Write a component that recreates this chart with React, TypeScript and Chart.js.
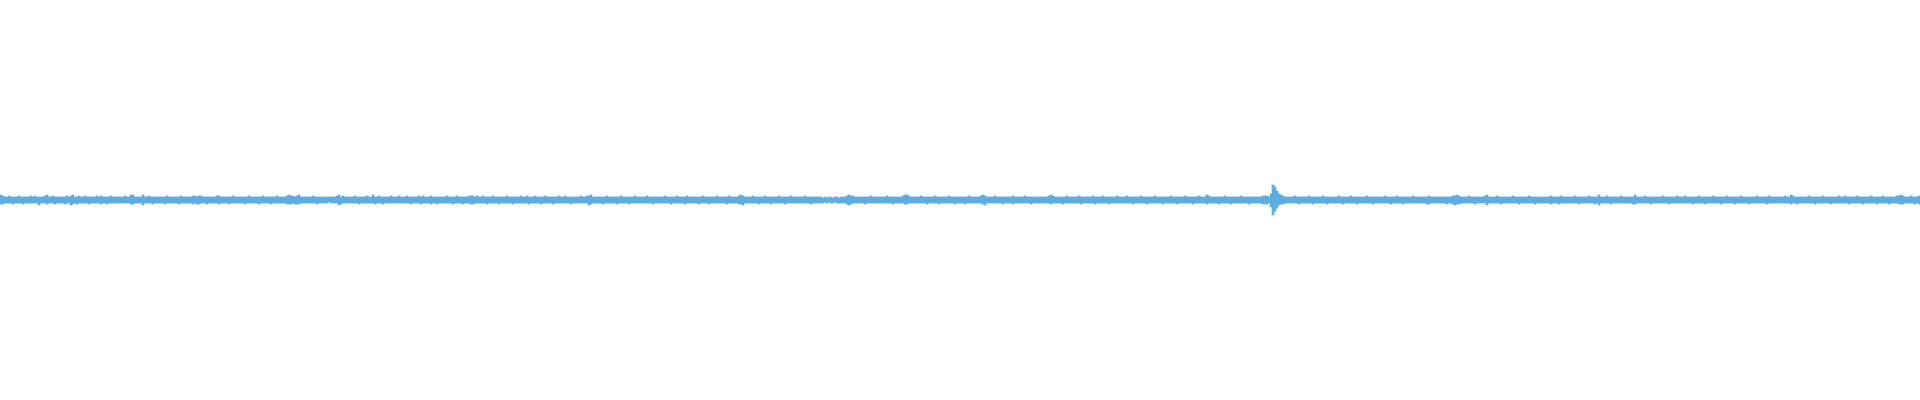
import React, { useEffect, useRef } from "react";
import { Chart, registerables } from "chart.js";

Chart.register(...registerables);

// Upper amplitude of each waveform column (2px per column), in pixel units
const upper: number[] = [
  5,4,3,3,4,3,3,3,3,4, 3,3,3,3,3,4,3,4,3,3, 3,3,4,5,3,3,4,3,3,3, 3,3,3,4,3,4,5,3,3,4,
  3,3,4,3,3,3,3,3,4,3, 4,3,3,3,3,4,3,3,3,3, 3,3,4,3,3,5,5,3,3,3, 3,5,3,3,4,3,3,3,3,3,
  3,3,3,4,3,3,3,3,3,3, 4,3,3,3,3,3,4,4,3,4, 4,3,3,3,3,3,3,3,4,4, 3,3,3,3,3,3,4,3,3,3,
  3,3,3,3,4,3,3,3,3,3, 3,4,3,3,3,3,3,3,4,3, 3,3,3,4,5,4,4,3,4,5, 3,3,3,3,3,3,4,3,3,3,
  3,3,3,3,3,3,3,3,4,5, 3,4,3,3,3,3,3,4,3,3, 3,3,3,4,3,3,5,3,3,4, 3,3,3,3,3,4,3,3,3,4,
  3,3,3,4,3,3,3,3,3,4, 3,4,3,3,3,4,3,3,3,3, 3,3,3,4,3,3,3,3,4,3, 3,3,3,3,4,4,4,3,4,3,
  3,4,3,3,3,3,4,3,3,3, 3,3,3,4,3,3,3,3,3,3, 4,3,3,4,3,3,3,4,3,3, 3,3,4,3,3,3,3,3,3,4,
  3,3,4,3,3,3,3,3,3,3, 4,3,3,4,4,5,3,3,3,3, 3,3,3,4,3,3,3,3,3,3, 4,3,3,3,3,3,3,4,3,3,
  3,3,3,4,3,3,3,3,3,3, 3,3,4,3,3,3,3,3,4,3, 3,3,3,4,3,3,3,3,3,3, 3,4,3,3,3,3,3,3,4,3,
  3,3,3,3,4,3,3,3,3,4, 5,4,3,3,3,3,4,3,3,3, 3,3,4,3,3,3,3,3,3,4, 3,3,3,3,3,4,3,3,3,3,
  3,3,4,3,3,3,3,3,3,3, 3,2,3,2,3,3,2,3,3,2, 3,3,3,4,5,4,4,3,3,3, 3,3,3,3,3,4,3,3,3,3,
  3,3,3,4,3,3,3,3,3,3, 3,4,5,5,4,3,3,3,3,3, 4,3,3,3,3,3,3,4,3,3, 3,3,3,3,4,3,3,3,3,3,
  3,3,3,3,4,3,3,3,3,3, 4,5,4,3,3,3,3,4,3,3, 3,3,3,3,3,3,4,3,3,3, 3,3,4,3,3,3,3,3,3,3,
  3,3,3,3,4,5,4,3,3,3, 3,3,3,4,3,3,3,3,3,4, 3,3,3,3,3,3,4,3,3,3, 3,4,3,3,3,3,3,3,4,3,
  3,3,3,4,3,3,3,3,3,3, 4,3,3,3,3,3,3,4,3,3, 3,3,3,3,3,4,3,3,3,3, 3,3,4,3,3,3,3,3,3,4,
  3,3,3,5,4,3,3,3,3,3, 3,3,4,3,3,3,3,3,3,3, 4,3,3,3,3,3,3,3,3,3, 3,4,4,4,3,6,15,13,9,6,
  5,4,3,3,3,3,3,4,3,3, 3,3,3,3,4,3,3,3,3,3, 3,4,3,3,3,3,3,3,3,4, 3,3,3,3,3,4,3,3,3,3,
  3,3,3,4,3,3,3,3,3,3, 3,3,4,3,3,3,3,3,4,3, 3,3,3,3,3,3,4,3,3,3, 3,3,3,3,4,3,3,3,3,3,
  3,3,3,3,3,3,4,4,5,4, 3,3,3,3,4,3,3,3,3,3, 3,3,4,5,3,3,3,3,4,3, 3,3,3,3,3,3,4,3,3,3,
  3,3,3,3,4,3,3,3,3,3, 3,3,3,3,3,4,3,3,3,3, 4,3,3,3,3,3,3,4,3,3, 3,3,3,3,4,3,3,3,3,5,
  3,3,3,4,3,3,3,3,3,3, 4,3,3,3,3,3,3,5,3,3, 3,3,4,3,3,3,3,3,3,3, 3,4,3,3,3,3,3,3,4,3,
  3,3,4,3,3,3,3,3,3,4, 3,3,3,3,3,3,4,3,3,3, 3,3,3,4,3,3,3,3,3,3, 4,3,3,3,3,3,3,3,4,3,
  3,3,3,3,4,3,3,3,3,3, 3,3,4,3,3,5,4,3,3,3, 3,3,3,3,4,3,3,3,3,3, 3,4,3,3,3,3,3,3,3,4,
  3,3,4,3,3,3,3,3,4,3, 3,3,3,3,3,4,3,3,3,3, 3,4,3,3,3,3,3,3,4,4, 5,4,3,3,3,4,3,3,3,4,
];

// Lower amplitude of each waveform column, in pixel units
const lower: number[] = [
  4,4,3,3,3,3,4,3,3,3, 3,4,3,3,3,3,3,3,3,5, 3,3,3,4,3,3,3,4,3,3, 3,3,4,3,3,5,4,3,4,3,
  3,3,3,3,4,3,3,3,3,3, 4,3,3,4,3,3,3,3,3,3, 3,3,3,3,3,4,4,3,3,3, 3,5,3,3,3,3,4,3,3,3,
  3,3,4,3,3,3,3,3,3,4, 3,3,3,3,3,3,4,3,4,4, 3,3,3,4,3,3,3,3,3,4, 3,3,3,3,4,3,3,3,3,3,
  3,3,4,3,3,3,3,3,3,4, 3,3,3,3,3,4,3,3,3,3, 3,3,3,4,4,4,3,4,4,4, 3,3,3,3,3,3,3,3,4,3,
  3,3,3,3,2,3,3,3,3,5, 4,3,3,3,3,3,3,3,3,4, 3,3,3,3,3,3,3,4,3,3, 3,4,3,3,3,3,3,3,3,3,
  3,3,3,3,3,4,3,3,3,3, 4,3,3,3,3,4,3,3,4,3, 3,3,3,3,3,3,4,3,3,3, 3,4,3,3,3,4,4,3,3,3,
  3,3,3,4,3,3,3,3,3,4, 3,3,3,3,3,3,4,3,3,3, 3,3,3,3,4,3,3,3,3,3, 4,3,3,3,3,3,4,3,3,3,
  3,3,3,3,3,4,3,3,3,3, 3,3,3,3,5,4,3,3,3,3, 3,4,3,3,3,3,3,3,4,3, 3,3,3,3,4,3,3,3,3,3,
  3,3,3,3,3,3,4,3,3,3, 3,3,3,3,3,4,3,3,3,3, 3,3,4,3,3,3,3,3,3,4, 3,3,3,3,4,3,3,3,3,3,
  3,3,3,4,3,3,3,3,3,4, 4,5,3,3,3,3,3,3,3,4, 3,3,3,3,3,4,3,3,3,3, 3,3,4,3,3,3,3,3,3,3,
  3,3,3,3,3,4,3,3,3,3, 3,3,2,3,2,3,3,2,3,3, 3,3,3,4,5,4,3,3,3,3, 3,3,4,3,3,3,3,3,3,3,
  3,3,3,3,3,3,4,3,3,3, 3,3,4,4,3,3,3,3,3,3, 3,3,3,4,3,3,3,3,3,4, 3,3,3,3,3,3,3,4,3,3,
  3,3,4,3,3,3,3,3,3,3, 3,4,5,3,3,3,3,3,3,3, 3,4,3,3,3,3,4,3,3,3, 3,3,3,3,3,4,3,3,3,3,
  3,3,3,3,3,4,3,3,3,3, 3,4,3,3,3,3,3,3,3,3, 4,3,3,3,3,3,3,4,3,3, 3,3,3,3,4,3,3,3,3,3,
  3,3,3,3,3,3,4,3,3,3, 3,3,3,4,3,3,3,3,3,3, 3,4,3,3,3,3,3,3,4,3, 3,3,3,3,3,3,4,3,3,3,
  3,3,3,4,3,3,3,3,3,4, 3,3,3,3,3,4,3,3,3,3, 3,3,3,3,4,3,3,3,3,3, 3,4,4,4,3,7,15,11,8,5,
  4,4,3,3,3,3,3,3,3,4, 3,3,3,3,3,3,4,3,3,3, 3,3,3,4,3,3,3,3,3,3, 3,4,3,3,3,3,3,3,4,3,
  3,3,3,3,3,3,4,3,3,3, 3,3,3,3,3,4,3,3,3,3, 3,4,3,3,3,3,3,3,3,3, 3,3,3,4,4,3,3,3,3,3,
  3,3,3,4,3,3,4,5,4,4, 3,3,3,3,3,3,3,4,3,3, 3,3,3,5,3,3,3,3,3,3, 4,3,3,3,3,3,3,3,3,4,
  3,3,3,3,3,3,3,4,3,3, 3,3,3,3,3,4,3,3,3,4, 3,3,3,3,3,3,3,3,3,4, 3,3,3,3,3,3,3,4,3,5,
  3,3,3,3,3,4,3,3,3,3, 3,3,3,3,3,3,4,4,3,3, 3,3,3,3,3,4,3,3,3,3, 3,3,3,3,4,3,3,3,3,3,
  3,3,3,3,3,3,4,3,3,3, 3,3,4,3,3,3,3,3,3,3, 4,3,3,3,3,3,3,4,3,3, 3,3,3,3,4,3,3,3,3,3,
  3,3,3,4,3,3,3,3,3,3, 3,3,3,3,3,4,3,3,4,3, 3,3,3,3,3,3,3,4,3,3, 3,3,3,3,3,4,3,3,3,3,
  3,3,3,3,4,3,3,3,3,3, 3,4,3,3,3,3,3,3,4,3, 3,3,3,3,4,3,3,3,3,4, 4,4,3,3,3,3,3,4,3,4,
];

const yMin = -200;
const yMax = 200;
const waveColor = "#5DADE2";

export default function App() {
  const canvasRef = useRef<HTMLCanvasElement | null>(null);

  useEffect(() => {
    document.body.style.margin = "0";
    const canvas = canvasRef.current;
    if (!canvas) return;
    const labels = upper.map((_, i) => String(i));
    const data = upper.map((u, i) => [-lower[i], u]);
    const chart = new Chart(canvas, {
      type: "bar",
      data: {
        labels,
        datasets: [
          {
            data: data as any,
            backgroundColor: waveColor,
            borderWidth: 0,
            borderSkipped: false,
            barPercentage: 1,
            categoryPercentage: 1,
          },
        ],
      },
      options: {
        responsive: false,
        animation: false,
        layout: { padding: 0 },
        plugins: {
          legend: { display: false },
          tooltip: { enabled: false },
        },
        scales: {
          x: { display: false, grid: { display: false } },
          y: { display: false, min: yMin, max: yMax, grid: { display: false } },
        },
      },
    });
    return () => chart.destroy();
  }, []);

  return (
    <div style={{ width: 1920, height: 400 }}>
      <canvas ref={canvasRef} width={1920} height={400} style={{ display: "block" }} />
    </div>
  );
}
